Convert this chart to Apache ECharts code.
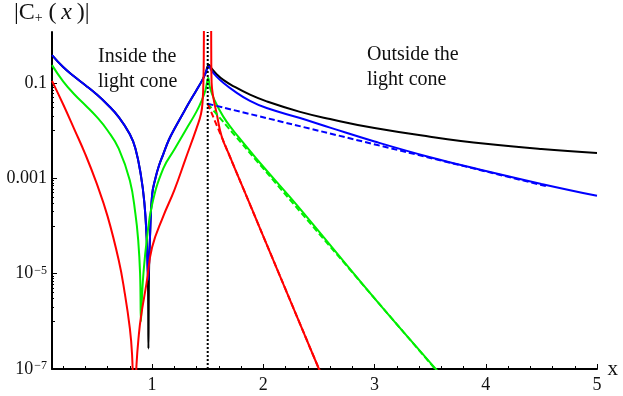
<!DOCTYPE html>
<html>
<head>
<meta charset="utf-8">
<script src="https://cdn.jsdelivr.net/npm/echarts@6/dist/echarts.min.js"></script>
<style>
html, body { margin: 0; padding: 0; background: #fff; }
#plot { width: 623px; height: 396px; }
</style>
</head>
<body>
<div id="plot"></div>
<script>
// x positions and log10 |C+(x)|
var lightConeX = 1.5;

var blackX = [0.1, 0.2, 0.3, 0.4, 0.5, 0.6, 0.7, 0.8, 0.85, 0.9, 0.93, 0.95, 0.962, 0.967, 0.972, 0.98, 1.0, 1.03, 1.06, 1.1, 1.15, 1.2, 1.3, 1.4, 1.45, 1.48, 1.51, 1.535, 1.58, 1.64, 1.73, 1.88, 2.03, 2.33, 2.6, 3.0, 3.5, 4.0, 4.5, 5.0];
var blackLog = [-0.42, -0.67, -0.87, -1.05, -1.24, -1.46, -1.72, -2.08, -2.38, -2.95, -3.5, -4.2, -5.0, -6.57, -5.0, -4.3, -3.35, -3.0, -2.75, -2.5, -2.2, -1.97, -1.55, -1.15, -0.95, -0.8, -0.62, -0.7, -0.82, -0.94, -1.07, -1.25, -1.39, -1.61, -1.76, -1.95, -2.13, -2.28, -2.39, -2.47];

var blueX = [0.1, 0.2, 0.3, 0.4, 0.5, 0.6, 0.7, 0.8, 0.85, 0.9, 0.93, 0.95, 0.965, 0.98, 1.0, 1.03, 1.06, 1.1, 1.15, 1.2, 1.3, 1.4, 1.45, 1.48, 1.51, 1.535, 1.58, 1.64, 1.73, 1.88, 2.03, 2.33, 2.6, 3.0, 3.5, 4.0, 4.5, 5.0];
var blueLog = [-0.42, -0.67, -0.87, -1.05, -1.24, -1.46, -1.72, -2.08, -2.38, -2.95, -3.5, -4.2, -5.13, -4.3, -3.35, -3.0, -2.75, -2.5, -2.2, -1.97, -1.55, -1.15, -0.95, -0.8, -0.66, -0.75, -0.87, -1.0, -1.16, -1.38, -1.53, -1.74, -1.94, -2.23, -2.56, -2.85, -3.12, -3.37];

var greenX = [0.1, 0.2, 0.3, 0.4, 0.5, 0.6, 0.7, 0.8, 0.85, 0.875, 0.892, 0.9, 0.91, 0.922, 0.952, 1.0, 1.1, 1.2, 1.3, 1.4, 1.45, 1.48, 1.505, 1.52, 1.56, 1.64, 1.73, 1.8, 2.0, 2.3, 3.0, 3.55, 3.6];
var greenLog = [-0.63, -0.97, -1.24, -1.47, -1.71, -2.0, -2.38, -3.05, -3.75, -4.3, -5.0, -6.0, -5.45, -5.0, -4.3, -3.55, -2.8, -2.4, -2.0, -1.6, -1.35, -1.15, -0.9, -1.1, -1.36, -1.71, -2.0, -2.2, -2.76, -3.56, -5.52, -7.0, -7.14];

var redX = [0.1, 0.2, 0.3, 0.4, 0.5, 0.6, 0.7, 0.75, 0.8, 0.82, 0.84, 0.86, 0.88, 0.9, 0.95, 1.0, 1.1, 1.2, 1.3, 1.4, 1.44, 1.455, 1.462, 1.465, 1.467, 1.53, 1.532, 1.535, 1.55, 1.58, 1.625, 1.7, 1.75, 1.9, 2.0, 2.5, 2.52];
var redLog = [-0.96, -1.45, -1.97, -2.5, -3.1, -3.8, -4.72, -5.35, -6.15, -6.7, -8.0, -6.9, -6.3, -5.9, -5.2, -4.45, -3.8, -3.25, -2.6, -1.95, -1.65, -1.35, -0.9, -0.3, 1.0, 1.0, -0.5, -1.0, -1.3, -1.64, -2.12, -2.55, -2.83, -3.66, -4.22, -7.0, -7.1];

// dashed asymptotic lines (straight on the log scale)
var blueDashX = [1.5, 4.55];
var blueDashLog = [-1.44, -3.17];
var greenDashX = [1.5, 3.6];
var greenDashLog = [-1.44, -7.15];
var redDashX = [1.5, 2.52];
var redDashLog = [-1.44, -7.11];

var xTicks = [1, 2, 3, 4, 5];
var xMinorTicks = [0.2, 0.4, 0.6, 0.8, 1.2, 1.4, 1.6, 1.8, 2.2, 2.4, 2.6, 2.8, 3.2, 3.4, 3.6, 3.8, 4.2, 4.4, 4.6, 4.8];
var yTicks = [1e-7, 1e-5, 1e-3, 0.1];
var yTickLabels = ['10{s|\u22127}', '10{s|\u22125}', '0.001', '0.1'];
var yMidTicks = [1e-6, 1e-4, 1e-2];
var yMinorTicks = [2e-6, 3e-6, 4e-6, 5e-6, 6e-6, 7e-6, 8e-6, 9e-6,
                   2e-4, 3e-4, 4e-4, 5e-4, 6e-4, 7e-4, 8e-4, 9e-4,
                   2e-2, 3e-2, 4e-2, 5e-2, 6e-2, 7e-2, 8e-2, 9e-2];

var xMin = 0.1, xMax = 5, yMin = 1e-7, yMax = 1.16;
var serif = '"Liberation Serif", "DejaVu Serif", serif';

function toPoints(xs, logs) {
    return xs.map(function (x, i) { return [x, Math.pow(10, logs[i])]; });
}

function curve(xs, logs, color, dash, z) {
    return {
        type: 'line',
        data: toPoints(xs, logs),
        symbol: 'none',
        smooth: 0.45,
        clip: true,
        z: z,
        lineStyle: { color: color, width: 2, type: dash || 'solid' }
    };
}

function yLabel(value) {
    for (var i = 0; i < yTicks.length; i++) {
        if (Math.abs(Math.log10(value) - Math.log10(yTicks[i])) < 0.01) return yTickLabels[i];
    }
    return '';
}

var chart = echarts.init(document.getElementById('plot'), null, { renderer: 'canvas' });

var option = {
    animation: false,
    grid: { left: 52, right: 26, top: 32, bottom: 27, containLabel: false, outerBoundsMode: 'none' },
    xAxis: [{
        type: 'value', min: xMin, max: xMax, position: 'bottom',
        name: 'x', nameLocation: 'end', nameGap: 9,
        nameTextStyle: { fontFamily: serif, fontSize: 21, color: '#111', verticalAlign: 'middle' },
        axisLine: { lineStyle: { color: '#000', width: 2 } },
        axisTick: { inside: true, length: 5, customValues: xTicks, lineStyle: { color: '#000', width: 1 } },
        axisLabel: { customValues: xTicks, margin: 7, fontFamily: serif, fontSize: 18, color: '#111' },
        splitLine: { show: false }
    }, {
        type: 'value', min: xMin, max: xMax, position: 'bottom',
        axisLine: { show: false },
        axisTick: { inside: true, length: 3, customValues: xMinorTicks, lineStyle: { color: '#000', width: 1 } },
        axisLabel: { show: false },
        splitLine: { show: false }
    }],
    yAxis: [{
        type: 'log', logBase: 10, min: yMin, max: yMax, position: 'left',
        axisLine: { lineStyle: { color: '#000', width: 2 } },
        axisTick: { inside: true, length: 5, customValues: yTicks, lineStyle: { color: '#000', width: 1 } },
        axisLabel: {
            customValues: yTicks, margin: 5, fontFamily: serif, fontSize: 18, color: '#111',
            formatter: yLabel,
            rich: { s: { fontFamily: serif, fontSize: 12, color: '#111', verticalAlign: 'top', lineHeight: 12, padding: [0, 0, 8, 1] } }
        },
        splitLine: { show: false }
    }, {
        type: 'log', logBase: 10, min: yMin, max: yMax, position: 'left',
        axisLine: { show: false },
        axisTick: { inside: true, length: 3, customValues: yMidTicks, lineStyle: { color: '#000', width: 1 } },
        axisLabel: { show: false },
        splitLine: { show: false }
    }, {
        type: 'log', logBase: 10, min: yMin, max: yMax, position: 'left',
        axisLine: { show: false },
        axisTick: { inside: true, length: 2, customValues: yMinorTicks, lineStyle: { color: '#000', width: 1 } },
        axisLabel: { show: false },
        splitLine: { show: false }
    }],
    series: [
        curve(blackX, blackLog, '#000000', 'solid', 2),
        curve(blueX, blueLog, '#0000ff', 'solid', 3),
        curve(greenX, greenLog, '#00ee00', 'solid', 4),
        curve(redX, redLog, '#ff0000', 'solid', 5),
        curve(greenDashX, greenDashLog, '#00ee00', [6, 3], 6),
        curve(redDashX, redDashLog, '#ff0000', [6, 3], 6),
        curve(blueDashX, blueDashLog, '#0000ff', [6, 3], 6),
        {
            type: 'line', symbol: 'none', z: 8,
            data: [[lightConeX, yMin], [lightConeX, yMax]],
            lineStyle: { color: '#000', width: 2, type: [2, 2] }
        }
    ],
    graphic: [
        {
            type: 'text', left: 14, top: 1,
            style: {
                text: '|C{sub|+}\u2009(\u2009{i|x}\u2009)|',
                font: '24px ' + serif, fill: '#111',
                rich: {
                    sub: { fontFamily: serif, fontSize: 14, verticalAlign: 'bottom', lineHeight: 24, padding: [0, 1, 0, 0] },
                    i: { fontFamily: serif, fontSize: 24, fontStyle: 'italic' }
                }
            }
        },
        { type: 'text', x: 98, y: 57, style: { text: 'Inside the', font: '20px ' + serif, fill: '#111', verticalAlign: 'middle' } },
        { type: 'text', x: 98, y: 82, style: { text: 'light cone', font: '20px ' + serif, fill: '#111', verticalAlign: 'middle' } },
        { type: 'text', x: 367, y: 55, style: { text: 'Outside the', font: '20px ' + serif, fill: '#111', verticalAlign: 'middle' } },
        { type: 'text', x: 367, y: 80, style: { text: 'light cone', font: '20px ' + serif, fill: '#111', verticalAlign: 'middle' } }
    ]
};

chart.setOption(option);
window.onresize = function () {
    chart.resize();
};
</script>
</body>
</html>
